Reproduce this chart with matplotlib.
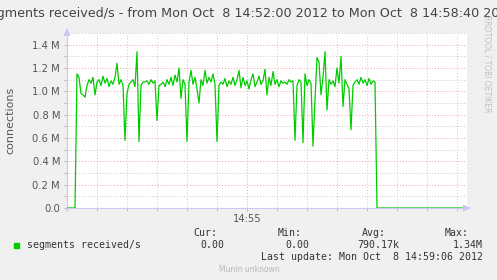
import matplotlib
matplotlib.use("Agg")
import matplotlib.pyplot as plt
from matplotlib.ticker import MultipleLocator, FixedLocator

# seconds after 14:52:00
t_start = [0, 8]
t_data = list(range(10, 310, 2))
t_end = [310, 400]

# segments received/s, in millions
vals_data = [
    1.15, 1.12, 0.98, 0.97, 0.95, 1.05, 1.10, 1.07, 1.12, 0.97,
    1.08, 1.10, 1.05, 1.13, 1.07, 1.11, 1.04, 1.09, 1.06, 1.12,
    1.24, 1.06, 1.10, 1.05, 0.58, 0.98, 1.06, 1.08, 1.10, 1.04,
    1.34, 0.57, 1.05, 1.08, 1.08, 1.09, 1.06, 1.10, 1.07, 1.09,
    0.75, 1.05, 1.06, 1.08, 1.04, 1.10, 1.06, 1.12, 1.05, 1.14,
    1.08, 1.20, 0.94, 1.10, 1.06, 0.57, 1.08, 1.18, 1.06, 1.12,
    1.02, 0.90, 1.10, 1.05, 1.18, 1.07, 1.12, 1.08, 1.15, 1.06,
    0.57, 1.05, 1.08, 1.06, 1.11, 1.04, 1.09, 1.06, 1.12, 1.05,
    1.10, 1.18, 1.03, 1.12, 1.05, 1.09, 1.02, 1.10, 1.15, 1.04,
    1.08, 1.13, 1.06, 1.09, 1.19, 0.97, 1.12, 1.05, 1.17, 1.06,
    1.10, 1.04, 1.09, 1.07, 1.08, 1.06, 1.10, 1.08, 1.09, 0.58,
    1.05, 1.10, 1.08, 0.56, 1.15, 1.05, 1.10, 1.07, 0.53, 0.93,
    1.29, 1.25, 0.97, 1.12, 1.34, 0.84, 1.10, 1.06, 1.09, 1.04,
    1.20, 1.07, 1.30, 0.87, 1.10, 1.06, 1.02, 0.67, 1.05, 1.08,
    1.10, 1.06, 1.12, 1.07, 1.10, 1.05, 1.11, 1.06, 1.09, 1.08,
]
vals_start = [0.0, 0.0]
vals_end = [0.0, 0.0]

t = t_start + t_data + t_end
v = vals_start + vals_data + vals_end

ytick_labels = ["0.0", "0.2 M", "0.4 M", "0.6 M", "0.8 M", "1.0 M", "1.2 M", "1.4 M"]
legend_name = "segments received/s"
stats_heads = ["Cur:", "Min:", "Avg:", "Max:"]
stats_vals = ["0.00", "0.00", "790.17k", "1.34M"]

W, H = 497, 280
fig = plt.figure(figsize=(W / 100, H / 100), dpi=100, facecolor="#f0f0f0")
ax = fig.add_axes([67 / W, (H - 208) / H, 400 / W, 175 / H])
ax.set_facecolor("white")

ax.set_xlim(0, 400)
ax.set_ylim(0, 1.5)

# grid: minor grey, major red (rrdtool look)
for x in range(30, 400, 30):
    c = "#f0a0a0" if x == 180 else "#c8c8c8"
    ax.axvline(x, color=c, lw=0.7, ls=(0, (1, 2)), zorder=1)
for i in range(1, 16):
    y = i / 10
    c = "#f0a0a0" if i % 2 == 0 else "#c8c8c8"
    ax.axhline(y, color=c, lw=0.7, ls=(0, (1, 2)), zorder=1)

ax.plot(t, v, color="#00cc00", lw=0.9, zorder=3)

for s in ["top", "right"]:
    ax.spines[s].set_visible(False)
ax.spines["left"].set_color("#c8c8f0")
ax.spines["bottom"].set_color("#c8c8f0")
ax.spines["left"].set_linewidth(0.8)
ax.spines["bottom"].set_linewidth(0.8)

ax.yaxis.set_major_locator(FixedLocator([i * 0.2 for i in range(8)]))
ax.set_yticklabels(ytick_labels)
ax.yaxis.set_minor_locator(MultipleLocator(0.1))
ax.xaxis.set_major_locator(FixedLocator([180]))
ax.set_xticklabels(["14:55"])
ax.xaxis.set_minor_locator(MultipleLocator(30))
ax.tick_params(axis="both", which="both", length=2, width=0.6, color="#b0b0b0",
               labelsize=7.2, labelcolor="#555555", pad=3)
ax.tick_params(axis="x", pad=2)

# axis arrows
ax.annotate("", xy=(1.015, 0), xytext=(1.0, 0), xycoords="axes fraction",
            arrowprops=dict(arrowstyle="-|>", color="#c8c8f0", lw=0.8), annotation_clip=False)
ax.annotate("", xy=(0, 1.025), xytext=(0, 1.0), xycoords="axes fraction",
            arrowprops=dict(arrowstyle="-|>", color="#c8c8f0", lw=0.8), annotation_clip=False)

ax.set_ylabel("connections", fontsize=8, color="#555555")
ax.yaxis.set_label_coords(-0.13, 0.5)

fig.text(0.5, 1 - 13 / H, "segments received/s - from Mon Oct  8 14:52:00 2012 to Mon Oct  8 14:58:40 2012",
         ha="center", va="center", fontsize=9.2, color="#444444")
fig.text(487 / W, 1 - 15 / H, "RRDTOOL / TOBI OETIKER", rotation=270, ha="center", va="top",
         fontsize=5.5, color="#c0c0c0")

mono = "DejaVu Sans Mono"
fig.patches.append(plt.Rectangle((14 / W, 1 - 248 / H), 5 / W, 5 / H, color="#00cc00",
                                 transform=fig.transFigure, figure=fig))
fig.text(27 / W, 1 - 245 / H, legend_name, family=mono, fontsize=7.1, color="#333333",
         ha="left", va="center")
head_x = [217, 302, 386, 469]
val_x = [224, 309, 399, 483]
for hx, h in zip(head_x, stats_heads):
    fig.text(hx / W, 1 - 233 / H, h, family=mono, fontsize=7.1, color="#333333",
             ha="right", va="center")
for vx, s in zip(val_x, stats_vals):
    fig.text(vx / W, 1 - 245 / H, s, family=mono, fontsize=7.1, color="#333333",
             ha="right", va="center")
fig.text(483 / W, 1 - 257 / H, "Last update: Mon Oct  8 14:59:06 2012", family=mono,
         fontsize=7.1, color="#333333", ha="right", va="center")
fig.text(249 / W, 1 - 269 / H, "Munin unknown", fontsize=5.5, color="#b8b8b8",
         ha="center", va="center")

fig.savefig("out.png", dpi=100, facecolor=fig.get_facecolor())
